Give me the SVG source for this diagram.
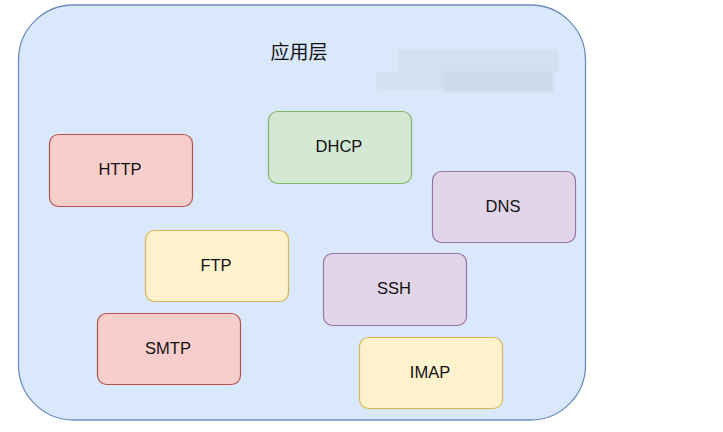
<svg xmlns="http://www.w3.org/2000/svg" width="723" height="432" viewBox="0 0 723 432">
<defs>
<style>
.lbl{font-family:"Liberation Sans",Arial,sans-serif;font-size:16.5px;fill:#111111;text-anchor:middle;dominant-baseline:central}
.title{font-family:"Noto Sans CJK SC","Liberation Sans",sans-serif;font-size:19px;fill:#111111;text-anchor:middle;dominant-baseline:central}
.red{fill:#f8cecc;stroke:#b85450;stroke-width:1.2}
.green{fill:#d5e8d4;stroke:#82b366;stroke-width:1.2}
.yellow{fill:#fff2cc;stroke:#d6b656;stroke-width:1.2}
.purple{fill:#e1d5e7;stroke:#9673a6;stroke-width:1.2}
</style>
<filter id="blur" x="-10%" y="-30%" width="120%" height="160%"><feGaussianBlur stdDeviation="1.5"/></filter>
</defs>
<rect width="723" height="432" fill="#ffffff"/>
<g id="layer">
<rect x="18.5" y="5" width="567" height="415" rx="55" ry="55" fill="#dae8fc" stroke="#6c8ebf" stroke-width="1.3"/>
<text class="title" x="299" y="50">应用层</text>
</g>
<g id="watermark" filter="url(#blur)" opacity="0.35">
<rect x="398" y="50" width="160" height="22" fill="#c9cfd8"/>
<rect x="376" y="72" width="70" height="18" fill="#c9cfd8"/>
<rect x="443" y="72" width="110" height="20" fill="#b8bec8"/>
</g>
<g id="connectors"></g>
<g id="http"><rect class="red" x="49.5" y="134.5" width="143" height="72" rx="9"/><text class="lbl" x="120" y="168.5">HTTP</text></g>
<g id="dhcp"><rect class="green" x="268.5" y="111.5" width="143" height="72" rx="9"/><text class="lbl" x="339" y="145.5">DHCP</text></g>
<g id="dns"><rect class="purple" x="432.5" y="171.5" width="143" height="71" rx="9"/><text class="lbl" x="503" y="205.5">DNS</text></g>
<g id="ftp"><rect class="yellow" x="145.5" y="230.5" width="143" height="71" rx="9"/><text class="lbl" x="216" y="264.5">FTP</text></g>
<g id="ssh"><rect class="purple" x="323.5" y="253.5" width="143" height="72" rx="9"/><text class="lbl" x="394" y="287.5">SSH</text></g>
<g id="smtp"><rect class="red" x="97.5" y="313.5" width="143" height="71" rx="9"/><text class="lbl" x="168" y="347.5">SMTP</text></g>
<g id="imap"><rect class="yellow" x="359.5" y="337.5" width="143" height="71" rx="9"/><text class="lbl" x="430" y="371.5">IMAP</text></g>
</svg>
